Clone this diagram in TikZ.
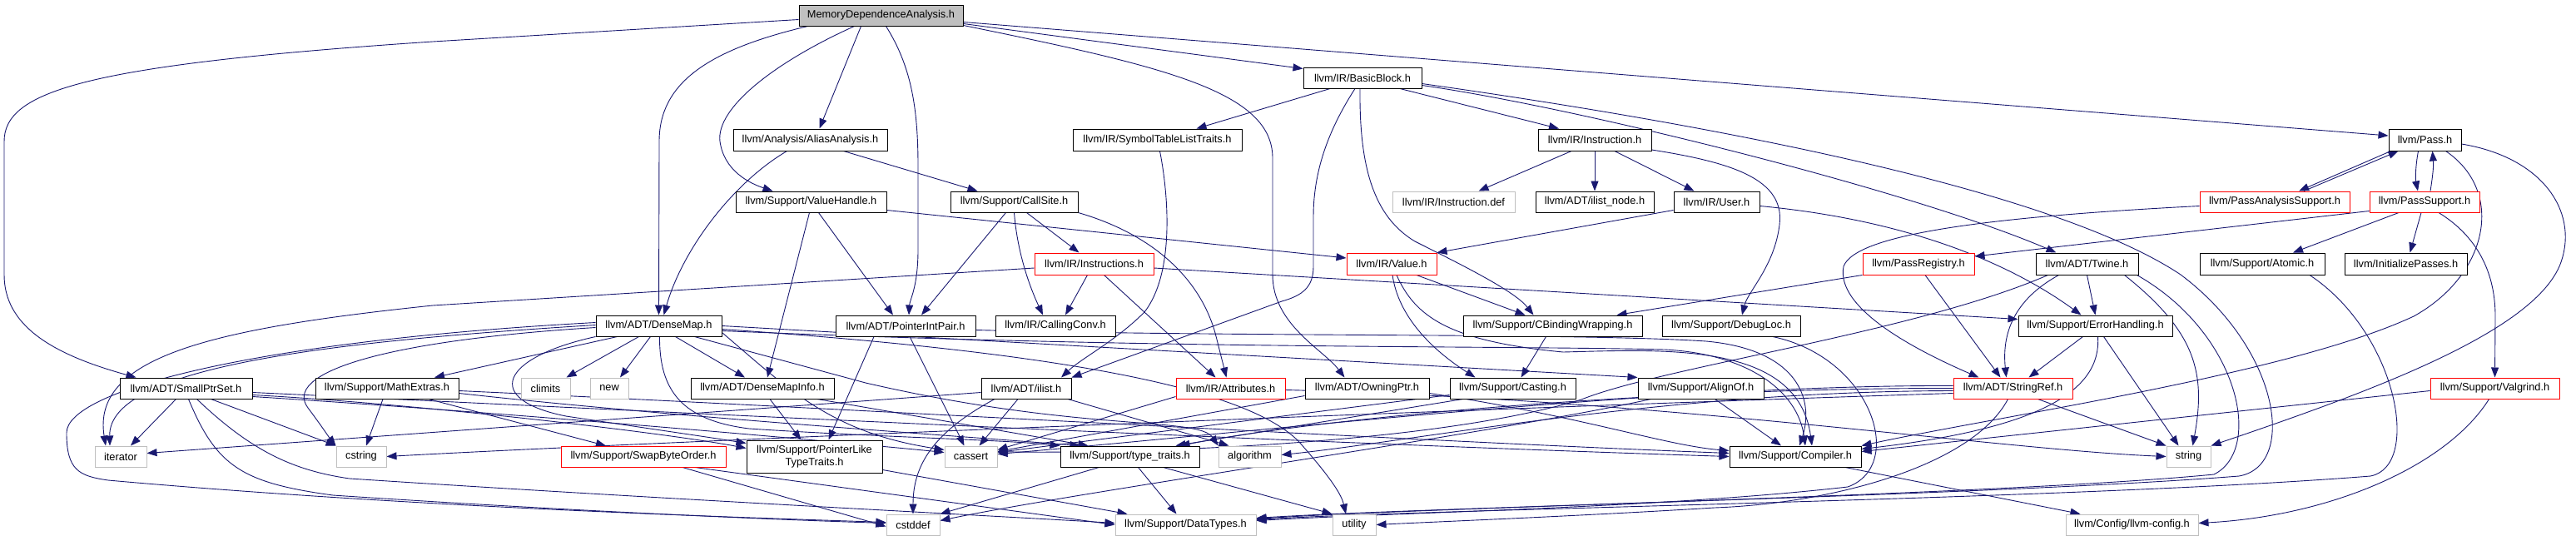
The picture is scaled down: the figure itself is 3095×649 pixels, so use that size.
\documentclass[tikz,border=0pt]{standalone}
\usepackage{fontspec}
\setmainfont{Liberation Sans}
\usetikzlibrary{arrows.meta}
\definecolor{edgec}{HTML}{191970}
\definecolor{grayb}{HTML}{BFBFBF}
\pgfdeclarelayer{bg}
\pgfsetlayers{bg,main}
\tikzset{
 box/.style={draw=black, fill=white, line width=1pt, inner sep=0pt, align=center, font=\fontsize{12.8}{14.5}\selectfont},
 rbox/.style={box, draw=red},
 gbox/.style={box, draw=grayb},
 rootbox/.style={box, fill=grayb},
 e/.style={draw=edgec, line width=0.9pt, -{Triangle[length=12pt,width=9pt]}},
}
\newcommand{\bx}[7]{\node[#2,minimum width={(#5-#3)*1pt},minimum height={(#6-#4)*1pt}] (#1) at ({(#3+#5)/2},{(#4+#6)/2}) {#7};}
\begin{document}
\begin{tikzpicture}[x=1pt,y=-1pt]
\useasboundingbox (0,0) rectangle (3095,649);
% row 0
\bx{md}{rootbox}{960}{6}{1157}{31}{MemoryDependenceAnalysis.h}
% row 1
\bx{bb}{box}{1566}{81}{1708}{106}{llvm/IR/BasicBlock.h}
% row 2
\bx{aa}{box}{881}{155}{1066}{181}{llvm/Analysis/AliasAnalysis.h}
\bx{stlt}{box}{1289}{155}{1492}{181}{llvm/IR/SymbolTableListTraits.h}
\bx{inst}{box}{1848}{155}{1984}{181}{llvm/IR/Instruction.h}
\bx{pass}{box}{2870}{155}{2957}{181}{llvm/Pass.h}
% row 3
\bx{vh}{box}{884}{230}{1065}{255}{llvm/Support/ValueHandle.h}
\bx{cs}{box}{1142}{230}{1295}{255}{llvm/Support/CallSite.h}
\bx{idef}{gbox}{1673}{230}{1820}{255}{llvm/IR/Instruction.def}
\bx{ilnode}{box}{1845}{230}{1987}{255}{llvm/ADT/ilist\_node.h}
\bx{user}{box}{2011}{230}{2114}{255}{llvm/IR/User.h}
\bx{pas}{rbox}{2643}{230}{2823}{255}{llvm/PassAnalysisSupport.h}
\bx{ps}{rbox}{2847}{230}{2979}{255}{llvm/PassSupport.h}
% row 4
\bx{insts}{rbox}{1243}{304}{1386}{330}{llvm/IR/Instructions.h}
\bx{val}{rbox}{1618}{304}{1726}{330}{llvm/IR/Value.h}
\bx{preg}{rbox}{2238}{304}{2372}{330}{llvm/PassRegistry.h}
\bx{tw}{box}{2446}{304}{2569}{330}{llvm/ADT/Twine.h}
\bx{atom}{box}{2643}{304}{2793}{330}{llvm/Support/Atomic.h}
\bx{initp}{box}{2817}{304}{2964}{330}{llvm/InitializePasses.h}
% row 5
\bx{dm}{box}{716}{379}{867}{404}{llvm/ADT/DenseMap.h}
\bx{pip}{box}{1004}{379}{1172}{404}{llvm/ADT/PointerIntPair.h}
\bx{cc}{box}{1196}{379}{1340}{404}{llvm/IR/CallingConv.h}
\bx{cbw}{box}{1758}{379}{1973}{404}{llvm/Support/CBindingWrapping.h}
\bx{dl}{box}{1997}{379}{2163}{404}{llvm/Support/DebugLoc.h}
\bx{eh}{box}{2425}{379}{2610}{404}{llvm/Support/ErrorHandling.h}
% row 6
\bx{sps}{box}{144}{454}{303}{479}{llvm/ADT/SmallPtrSet.h}
\bx{mex}{box}{379}{454}{551}{479}{llvm/Support/MathExtras.h}
\bx{clim}{gbox}{626}{454}{685}{479}{climits}
\bx{new}{gbox}{709}{454}{755}{479}{new}
\bx{dmi}{box}{830}{454}{1002}{479}{llvm/ADT/DenseMapInfo.h}
\bx{ilist}{box}{1179}{454}{1287}{479}{llvm/ADT/ilist.h}
\bx{attr}{rbox}{1413}{454}{1544}{479}{llvm/IR/Attributes.h}
\bx{own}{box}{1568}{454}{1717}{479}{llvm/ADT/OwningPtr.h}
\bx{cast}{box}{1742}{454}{1893}{479}{llvm/Support/Casting.h}
\bx{align}{box}{1968}{454}{2119}{479}{llvm/Support/AlignOf.h}
\bx{sref}{rbox}{2347}{454}{2490}{479}{llvm/ADT/StringRef.h}
\bx{valg}{rbox}{2920}{454}{3075}{479}{llvm/Support/Valgrind.h}
% row 7
\bx{iter}{gbox}{114}{536}{176}{561}{iterator}
\bx{cstr}{gbox}{404}{536}{464}{561}{cstring}
\bx{sbo}{rbox}{674}{536}{872}{561}{llvm/Support/SwapByteOrder.h}
\bx{pltt}{box}{897}{529}{1060}{568}{llvm/Support/PointerLike\\TypeTraits.h}
\bx{cass}{gbox}{1135}{536}{1198}{561}{cassert}
\bx{tt}{box}{1274}{536}{1441}{561}{llvm/Support/type\_traits.h}
\bx{algo}{gbox}{1464}{536}{1539}{561}{algorithm}
\bx{comp}{box}{2078}{536}{2236}{561}{llvm/Support/Compiler.h}
\bx{str}{gbox}{2603}{536}{2656}{561}{string}
% row 8
\bx{cstdd}{gbox}{1065}{618}{1129}{643}{cstddef}
\bx{dt}{gbox}{1340}{618}{1509}{643}{llvm/Support/DataTypes.h}
\bx{util}{gbox}{1601}{618}{1653}{643}{utility}
\bx{cfg}{gbox}{2482}{618}{2641}{643}{llvm/Config/llvm-config.h}

\begin{pgfonlayer}{bg}
% md
\draw[e] ([yshift=-5]md.west) -- (520,50) .. controls (100,78) and (5,110) .. (5,170) -- (5,330) .. controls (5,390) and (60,425) .. ([xshift=-60]sps.north);
\draw[e] ([xshift=-88]md.south) .. controls (850,60) and (792,100) .. (792,170) -- (dm.north);
\draw[e] ([xshift=-32]md.south) .. controls (930,75) and (860,130) .. (865,170) .. controls (870,205) and (900,220) .. ([xshift=-46]vh.north);
\draw[e] ([xshift=-24]md.south) -- ([xshift=11]aa.north);
\draw[e] ([xshift=6]md.south) .. controls (1095,80) and (1103,130) .. (1103,200) -- (1103,300) .. controls (1103,345) and (1093,360) .. ([xshift=4]pip.north);
\draw[e] ([yshift=-12]md.east) .. controls (1400,80) and (1529,110) .. (1529,190) -- (1529,330) .. controls (1529,390) and (1590,420) .. ([xshift=-27]own.north);
\draw[e] ([yshift=-10]md.east) -- ([yshift=11]bb.west);
\draw[e] ([yshift=-8]md.east) -- ([yshift=5]pass.west);
% bb
\draw[e] ([xshift=-39]bb.south) -- ([xshift=47]stlt.north);
\draw[e] ([xshift=-9]bb.south) .. controls (1600,150) and (1578,200) .. (1578,260) -- (1578,320) .. controls (1578,345) and (1565,355) .. (1540,362) -- (ilist.north east);
\draw[e] ([xshift=-3]bb.south) .. controls (1633,200) and (1650,260) .. (1700,290) .. controls (1760,320) and (1820,350) .. ([xshift=-23]cbw.north);
\draw[e] ([xshift=45]bb.south) -- ([xshift=-43]inst.north);
\draw[e] ([yshift=-9]bb.east) .. controls (1900,130) and (2300,230) .. ([xshift=-37]tw.north);
\draw[e] ([yshift=-7]bb.east) .. controls (2200,170) and (2500,250) .. (2620,330) .. controls (2740,420) and (2760,560) .. (2690,572) .. controls (2400,595) and (1700,610) .. ([yshift=8]dt.east);
% aa
\draw[e] ([xshift=-28]aa.south) .. controls (880,220) and (820,300) .. ([xshift=6]dm.north);
\draw[e] ([xshift=40]aa.south) -- ([xshift=-44]cs.north);
% stlt
\draw[e] ([xshift=3]stlt.south) .. controls (1405,240) and (1410,330) .. (1375,375) .. controls (1340,410) and (1300,430) .. ([xshift=42]ilist.north);
% inst
\draw[e] ([xshift=-28]inst.south) -- ([xshift=30]idef.north);
\draw[e] (inst) -- (ilnode);
\draw[e] ([xshift=24]inst.south) -- ([xshift=-27]user.north);
\draw[e] ([yshift=-12]inst.east) .. controls (2080,195) and (2145,215) .. (2138,270) .. controls (2132,320) and (2100,350) .. ([xshift=13]dl.north);
% pass
\draw[e] ([xshift=-41]pass.south) -- ([xshift=29]pas.north);
\draw[e] ([xshift=-8]pass.south) .. controls (2902,200) and (2902,215) .. ([xshift=-8]ps.north);
\draw[e] ([xshift=25]pass.south) .. controls (3010,230) and (2990,330) .. (2900,380) .. controls (2750,450) and (2400,500) .. (comp.north east);
\draw[e] ([yshift=-5]pass.east) .. controls (3060,190) and (3100,260) .. (3075,320) .. controls (3040,400) and (2850,470) .. (str.north east);
% pas
\draw[e] ([xshift=35]pas.north) -- ([xshift=-32]pass.south);
\draw[e] ([yshift=-5]pas.west) .. controls (2400,260) and (2230,280) .. (2215,320) .. controls (2205,370) and (2300,420) .. ([xshift=-41]sref.north);
% ps
\draw[e] ([xshift=7]ps.north) .. controls (2923,210) and (2924,200) .. ([xshift=9]pass.south);
\draw[e] ([xshift=17]ps.south) .. controls (2970,280) and (2998,320) .. (2998,380) -- (valg.north);
\draw[e] ([xshift=-31]ps.south) -- ([xshift=37]atom.north);
\draw[e] ([xshift=-4]ps.south) -- ([xshift=5]initp.north);
\draw[e] ([yshift=-11]ps.west) -- ([yshift=9]preg.east);
% vh
\draw[e] ([xshift=-2]vh.south) -- ([xshift=6]dmi.north);
\draw[e] ([xshift=9]vh.south) -- ([xshift=-15]pip.north);
\draw[e] ([yshift=-10]vh.east) -- ([yshift=7]val.west);
% cs
\draw[e] ([xshift=-10]cs.south) -- ([xshift=19]pip.north);
\draw[e] (cs.south) .. controls (1222,300) and (1235,340) .. ([xshift=-15]cc.north);
\draw[e] ([xshift=15]cs.south) -- ([xshift=-18]insts.north);
\draw[e] (cs.south east) .. controls (1380,280) and (1440,330) .. (1460,400) -- ([xshift=-5]attr.north);
% insts
\draw[e] ([xshift=-8]insts.south) -- ([xshift=12]cc.north);
\draw[e] ([xshift=12]insts.south) -- ([xshift=-18]attr.north);
\draw[e] ([yshift=-5]insts.east) -- ([yshift=8]eh.west);
\draw[e] ([yshift=-5]insts.west) -- (520,367) .. controls (250,395) and (110,430) .. ([xshift=-18]iter.north);
% val
\draw[e] ([xshift=30]val.south) -- ([xshift=-33]cbw.north);
\draw[e] ([xshift=1]val.south) .. controls (1680,380) and (1720,420) .. ([xshift=-45]cast.north);
\draw[e] ([xshift=6]val.south) .. controls (1700,380) and (1740,410) .. (1878,423) .. controls (2000,420) and (2160,410) .. ([xshift=20]comp.north);
% user
\draw[e] ([yshift=-10]user.west) -- (val.north east);
\draw[e] ([yshift=-5]user.east) .. controls (2300,265) and (2420,320) .. ([xshift=-17]eh.north);
% preg
\draw[e] (preg.south west) -- ([xshift=77]cbw.north);
\draw[e] ([xshift=8]preg.south) -- ([xshift=-15]sref.north);
% tw
\draw[e] (tw.south) -- (eh.north);
\draw[e] ([xshift=-34]tw.south) .. controls (2420,360) and (2405,400) .. ([xshift=-8]sref.north);
\draw[e] ([xshift=-47]tw.south) .. controls (2300,400) and (2000,440) .. (1900,480) .. controls (1700,540) and (1300,545) .. ([yshift=6]cass.east);
\draw[e] ([xshift=45]tw.south) .. controls (2640,400) and (2650,450) .. ([xshift=5]str.north);
\draw[e] ([xshift=60]tw.south) .. controls (2690,400) and (2720,540) .. (2660,570) .. controls (2400,595) and (1700,610) .. ([yshift=7]dt.east);
% atom
\draw[e] ([xshift=57]atom.south) .. controls (2880,400) and (2910,560) .. (2848,572) .. controls (2500,600) and (1700,612) .. ([yshift=6]dt.east);
% valg
\draw[e] ([yshift=-3]valg.west) -- ([yshift=6]comp.east);
\draw[e] ([xshift=-7]valg.south) .. controls (2940,560) and (2800,620) .. ([yshift=2]cfg.east);
% dm
\draw[e] ([xshift=-50]dm.south) -- ([xshift=57]mex.north);
\draw[e] ([xshift=-24]dm.south) -- ([xshift=25]clim.north);
\draw[e] ([xshift=-10]dm.south) -- ([xshift=13]new.north);
\draw[e] ([xshift=20]dm.south) -- ([xshift=-21]dmi.north);
\draw[e] (dm.south west) .. controls (600,430) and (580,480) .. (680,500) .. controls (780,515) and (850,525) .. ([yshift=16]pltt.west);
\draw[e] ([xshift=1]dm.south) .. controls (792,470) and (820,505) .. (900,515) .. controls (1050,525) and (1200,528) .. (tt.north west);
\draw[e] ([xshift=43]dm.south) -- (1040,460) .. controls (1300,520) and (1440,500) .. (algo.north west);
\draw[e] ([yshift=-4]dm.east) .. controls (1300,425) and (1500,470) .. (1560,530) .. controls (1600,575) and (1612,595) .. ([xshift=-10]util.north);
\draw[e] ([yshift=-6]dm.east) .. controls (1400,420) and (1800,415) .. (2000,420) .. controls (2100,425) and (2160,470) .. ([xshift=12]comp.north);
\draw[e] ([yshift=-8]dm.east) .. controls (950,470) and (1000,520) .. ([yshift=8]cass.west);
\draw[e] (dm.east) -- (align.north west);
\draw[e] ([yshift=-2]dm.west) .. controls (450,410) and (340,450) .. (370,490) .. controls (385,510) and (395,525) .. (cstr.north west);
\draw[e] ([yshift=1]dm.west) .. controls (400,410) and (130,440) .. ([xshift=-13]iter.north);
\draw[e] ([yshift=4]dm.west) .. controls (300,410) and (80,470) .. (80,520) .. controls (80,565) and (95,572) .. (130,577) .. controls (500,610) and (900,622) .. ([yshift=3]cstdd.west);
% pip
\draw[e] ([xshift=-38]pip.south) -- ([xshift=17]pltt.north);
\draw[e] ([xshift=5]pip.south) -- ([xshift=-8]cass.north);
\draw[e] ([yshift=-5]pip.east) .. controls (1500,405) and (1900,400) .. (2050,410) .. controls (2160,420) and (2180,480) .. ([xshift=5]comp.north);
% cbw, dl
\draw[e] ([xshift=-8]cbw.south) -- ([xshift=10]cast.north);
\draw[e] ([xshift=50]dl.south) .. controls (2250,430) and (2290,560) .. (2220,585) .. controls (2000,610) and (1700,615) .. ([yshift=5]dt.east);
% eh
\draw[e] ([xshift=-15]eh.south) -- ([xshift=19]sref.north);
\draw[e] ([xshift=3]eh.south) .. controls (2525,470) and (2450,515) .. ([yshift=9]comp.east);
\draw[e] ([xshift=10]eh.south) -- ([xshift=-12]str.north);
% sps
\draw[e] ([xshift=-12]sps.south) -- ([xshift=12]iter.north);
\draw[e] ([xshift=30]sps.south) -- (cstr.north west);
\draw[e] ([xshift=3]sps.south) .. controls (260,560) and (290,580) .. (400,595) .. controls (700,615) and (950,625) .. ([yshift=2]cstdd.west);
\draw[e] ([xshift=13]sps.south) .. controls (300,540) and (350,565) .. (420,575) .. controls (800,600) and (1200,620) .. ([yshift=2]dt.west);
\draw[e] ([yshift=-5]sps.east) .. controls (700,490) and (1500,530) .. (comp.west);
\draw[e] ([yshift=-8]sps.east) .. controls (500,485) and (800,520) .. ([yshift=10]pltt.west);
\draw[e] ([yshift=-10]sps.east) .. controls (600,495) and (1000,530) .. ([yshift=5]cass.west);
% mex
\draw[e] ([xshift=-5]mex.south) -- ([xshift=6]cstr.north);
\draw[e] ([xshift=50]mex.south) -- ([xshift=-45]sbo.north);
\draw[e] ([yshift=-3]mex.east) .. controls (1000,490) and (1700,530) .. ([yshift=4]comp.west);
\draw[e] ([yshift=-6]mex.east) .. controls (800,500) and (1100,520) .. ([xshift=-60]tt.north);
% dmi
\draw[e] ([xshift=9]dmi.south) -- ([xshift=-16]pltt.north);
\draw[e] ([xshift=66]dmi.south) -- ([xshift=-50]tt.north);
% ilist
\draw[e] ([yshift=-5]ilist.west) -- ([yshift=4]iter.east);
\draw[e] ([xshift=-10]ilist.south) -- ([xshift=10]cass.north);
\draw[e] ([xshift=-38]ilist.south) .. controls (1120,520) and (1097,560) .. (cstdd.north);
\draw[e] ([xshift=50]ilist.south) -- ([xshift=-25]algo.north);
% attr
\draw[e] ([yshift=-10]attr.west) -- ([yshift=8]cass.east);
\draw[e] ([yshift=-2]attr.east) .. controls (2000,480) and (2400,540) .. (str.west);
% own
\draw[e] ([yshift=-9]own.west) -- ([yshift=6]cass.east);
\draw[e] ([yshift=-6]own.east) .. controls (1900,500) and (2000,535) .. ([yshift=7]comp.west);
% cast
\draw[e] ([xshift=-60]cast.south) -- ([xshift=55]tt.north);
\draw[e] ([yshift=-8]cast.west) -- ([yshift=5]cass.east);
% align
\draw[e] ([xshift=17]align.south) -- ([xshift=-17]comp.north);
\draw[e] ([xshift=-60]align.south) .. controls (1800,520) and (1300,590) .. ([yshift=5]cstdd.east);
% sref
\draw[e] ([xshift=30]sref.south) -- (str.north west);
\draw[e] ([yshift=-3]sref.west) .. controls (2000,470) and (1700,530) .. ([yshift=2]algo.east);
\draw[e] ([yshift=3]sref.west) .. controls (2000,462) and (1500,520) .. ([yshift=3]cass.east);
\draw[e] (sref.west) .. controls (2000,466) and (1600,500) .. ([xshift=60]tt.north);
\draw[e] ([xshift=-6]sref.south) .. controls (2370,560) and (2200,605) .. (2060,610) .. controls (1900,620) and (1700,628) .. (util.east);
\draw[e] ([yshift=-6]sref.west) .. controls (1800,490) and (800,530) .. (cstr.east);
% sbo
\draw[e] ([xshift=47]sbo.south) -- ([yshift=-2]cstdd.west);
\draw[e] ([xshift=62]sbo.south) -- (dt.west);
% pltt
\draw[e] ([yshift=-16]pltt.east) -- ([xshift=-70]dt.north);
% tt
\draw[e] ([xshift=-37]tt.south) -- (cstdd.north east);
\draw[e] ([xshift=10]tt.south) -- ([xshift=-11]dt.north);
\draw[e] ([xshift=40]tt.south) -- (util.north west);
% comp
\draw[e] ([xshift=60]comp.south) -- ([xshift=-62]cfg.north);
\end{pgfonlayer}
\end{tikzpicture}
\end{document}
